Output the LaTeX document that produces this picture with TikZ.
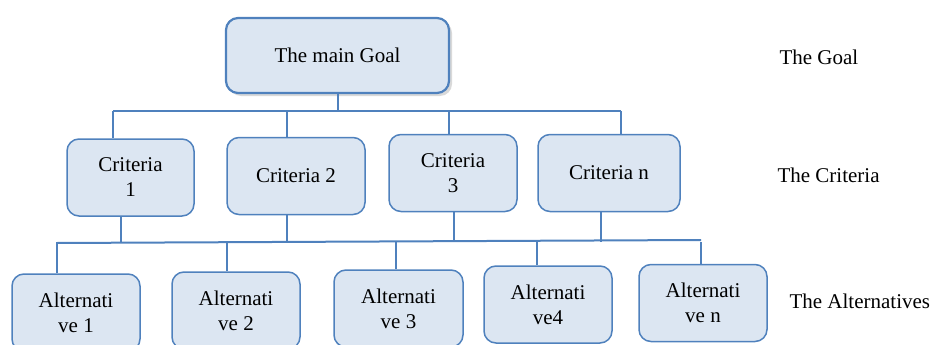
\documentclass[tikz,border=0pt]{standalone}
\usepackage{fontspec}
\setmainfont{Liberation Serif}
\usetikzlibrary{shadows}
\definecolor{boxblue}{RGB}{220,230,242}
\definecolor{lineblue}{RGB}{79,129,189}
\tikzset{
  box/.style={draw=lineblue, fill=boxblue, line width=1.5pt, rounded corners=12pt,
    align=center, minimum height=77pt, inner sep=2pt},
  link/.style={draw=lineblue, line width=2pt},
  level/.style={anchor=west}
}
\begin{document}
\begin{tikzpicture}[x=1pt, y=-1pt, font=\fontsize{21}{25}\selectfont, line join=round]
  \useasboundingbox (0,0) rectangle (932,345);
  \clip (0,0) rectangle (932,345);
  % boxes
  \node[box, line width=2.2pt, minimum width=223pt, minimum height=75pt,
    drop shadow={shadow xshift=3pt, shadow yshift=-3pt, opacity=0.3}] (goal) at (337.5,55.5) {The main Goal};
  \node[box, minimum width=127pt] (c1) at (130.5,177.5) {Criteria\\1};
  \node[box, minimum width=138pt] (c2) at (296,176) {Criteria 2};
  \node[box, minimum width=128pt] (c3) at (453,173) {Criteria\\3};
  \node[box, minimum width=142pt] (cn) at (609,173) {Criteria n};
  \node[box, minimum width=128pt] (a1) at (76,312.5) {Alternati\\ve 1};
  \node[box, minimum width=128pt] (a2) at (236,310.5) {Alternati\\ve 2};
  \node[box, minimum width=129pt] (a3) at (398.5,308.5) {Alternati\\ve 3};
  \node[box, minimum width=128pt] (a4) at (548,304.5) {Alternati\\ve4};
  \node[box, minimum width=128pt] (an) at (703,303) {Alternati\\ve n};
  % levels
  \node[level] (lgoal) at (776,57) {The Goal};
  \node[level] (lcrit) at (774,175) {The Criteria};
  \node[level] (lalt) at (786,301) {The Alternatives};
  % goal to criteria
  \coordinate (bus1) at (337.5,111);
  \draw[link] (goal.south) -- (bus1);
  \draw[link] (113,111) -- (621,111);
  \foreach \x/\n in {113/c1, 287/c2, 449/c3, 621/cn}
    \draw[link] (\x,111) -- (\n.north -| \x,0);
  % criteria to alternatives
  \draw[link] (57,243) -- (701,240);
  \foreach \x/\n in {121/c1, 287/c2, 454/c3, 601/cn}
    \draw[link] (\n.south -| \x,0) -- (\x,242);
  \foreach \x/\n in {57/a1, 227/a2, 396/a3, 537/a4, 701/an}
    \draw[link] (\x,242) -- (\n.north -| \x,0);
\end{tikzpicture}
\end{document}
